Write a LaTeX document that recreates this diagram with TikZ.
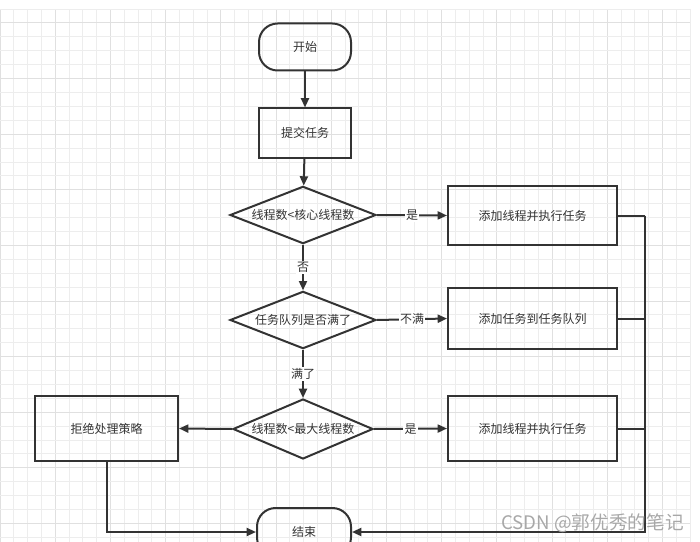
\documentclass[tikz,border=0pt]{standalone}
\usepackage{fontspec}
\setmainfont{Noto Sans CJK SC}
\newfontfamily\cjk{Noto Sans CJK SC}
\usetikzlibrary{shapes.geometric,arrows.meta}
\definecolor{ink}{HTML}{333333}
\definecolor{gridminor}{HTML}{EDEDED}
\definecolor{gridmajor}{HTML}{E0E0E0}
\definecolor{wm}{HTML}{A8A8A8}
\begin{document}
\begin{tikzpicture}[x=0.75pt,y=-0.75pt,
  every node/.style={font=\cjk\fontsize{9}{11}\selectfont, text=ink},
  term/.style={draw=ink, line width=1.5pt, rounded corners=14pt, minimum width=69pt, minimum height=35.25pt, inner sep=0pt},
  procbox/.style={draw=ink, line width=1.5pt, inner sep=0pt},
  decide/.style={draw=ink, line width=1.5pt, diamond, inner sep=0pt, minimum width=109.5pt, minimum height=43pt},
  conn/.style={draw=ink, line width=1.5pt},
  arr/.style={conn, -{Triangle[length=7pt,width=6pt]}},
  lbl/.style={fill=white, inner sep=1pt}
]
\useasboundingbox (0,0) rectangle (700,542);
\clip (0,0) rectangle (700,542);
% grid
\foreach \k in {0,...,50}{
  \pgfmathsetmacro\gx{690-13.8*\k}
  \pgfmathtruncatemacro\m{mod(\k,4)}
  \ifnum\m=2
    \draw[gridmajor, line width=0.6pt] (\gx,9) -- (\gx,542);
  \else
    \draw[gridminor, line width=0.6pt] (\gx,9) -- (\gx,542);
  \fi
}
\foreach \k in {0,...,39}{
  \pgfmathsetmacro\gy{9+13.9*\k}
  \pgfmathtruncatemacro\m{mod(\k,4)}
  \ifnum\m=1
    \draw[gridmajor, line width=0.6pt] (0,\gy) -- (690,\gy);
  \else
    \draw[gridminor, line width=0.6pt] (0,\gy) -- (690,\gy);
  \fi
}
% nodes
\node[term] (start) at (305,47) {开始};
\node[procbox, minimum width=69pt, minimum height=36.75pt] (submit) at (305,133) {提交任务};
\node[decide] (d1) at (303,215) {};
\node at (d1) {线程数<核心线程数};
\node[procbox, minimum width=126.75pt, minimum height=44.25pt] (b1) at (532.5,215.5) {添加线程并执行任务};
\node[decide] (d2) at (303,320) {};
\node at (d2) {任务队列是否满了};
\node[procbox, minimum width=126.75pt, minimum height=45.75pt] (b2) at (532.5,318.5) {添加任务到任务队列};
\node[decide, minimum width=105pt, minimum height=45pt] (d3) at (303,429) {};
\node at (d3) {线程数<最大线程数};
\node[procbox, minimum width=126.75pt, minimum height=48.75pt] (b3) at (532.5,428.5) {添加线程并执行任务};
\node[procbox, minimum width=107.25pt, minimum height=48.75pt] (reject) at (106.5,428.5) {拒绝处理策略};
\node[term, minimum width=70.5pt, minimum height=36pt] (end) at (304,532) {结束};
\coordinate (busT) at (645,215.5);
\coordinate (busB) at (645,532);
% connectors
\draw[arr] (start) -- (submit);
\draw[arr] (submit) -- (d1);
\draw[arr] (d1.east) -- node[lbl]{是} (b1.west);
\draw[arr] (d1.south) -- node[lbl]{否} (d2.north);
\draw[arr] (d2.east) -- node[lbl]{不满} (b2.west);
\draw[arr] (d2.south) -- node[lbl]{满了} (d3.north);
\draw[arr] (d3.east) -- node[lbl]{是} (b3.west);
\draw[arr] (d3.west) -- (reject.east);
\draw[conn] (b1.east) -- (busT);
\draw[conn] (b2.east) -- (b2.east -| busT);
\draw[conn] (b3.east) -- (b3.east -| busT);
\draw[arr] (busT) -- (busB) -- (end.east);
\draw[arr] (reject.south) |- (end.west);
% watermark
\node[anchor=east, text=wm, font=\cjk\fontsize{14}{16}\selectfont, inner sep=0pt] (wmark) at (684,523) {CSDN @郭优秀的笔记};
\end{tikzpicture}
\end{document}
